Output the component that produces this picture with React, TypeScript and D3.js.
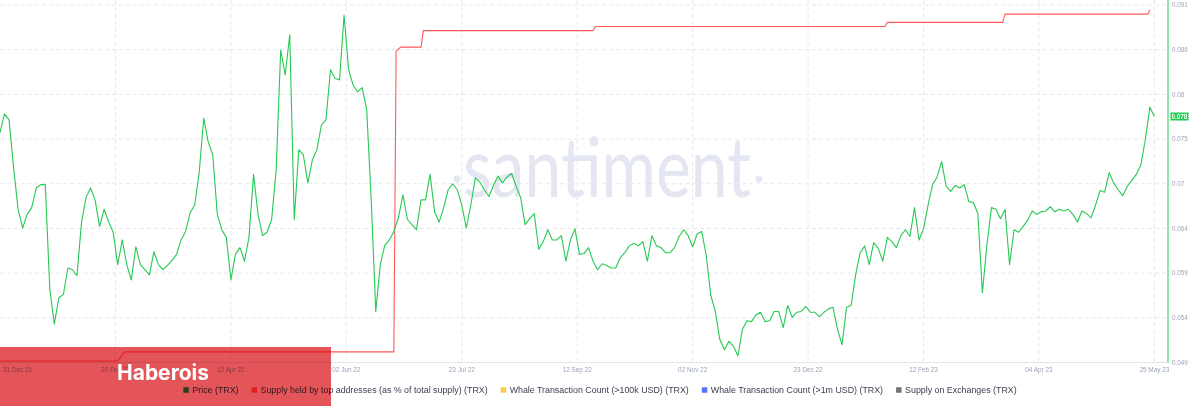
import React, { useEffect, useRef } from "react";
import * as d3 from "d3";

// ---------- DATA ----------
const domainStart = "2021-12-31";
const domainEnd = "2023-05-31";

// Price (TRX), one reading every 2 days starting at priceStart
const priceStart = "2021-12-31";
const priceStepDays = 2;
const priceValues = [
  0.0760, 0.0782, 0.0775, 0.0719, 0.0670, 0.0648, 0.0664, 0.0672, 0.0695, 0.0699,
  0.0699, 0.0576, 0.0535, 0.0566, 0.0570, 0.0601, 0.0599, 0.0592, 0.0654, 0.0684,
  0.0695, 0.0681, 0.0650, 0.0670, 0.0655, 0.0643, 0.0605, 0.0634, 0.0605, 0.0587,
  0.0626, 0.0605, 0.0599, 0.0593, 0.0620, 0.0605, 0.0599, 0.0604, 0.0610, 0.0617,
  0.0634, 0.0644, 0.0666, 0.0675, 0.0713, 0.0777, 0.0749, 0.0734, 0.0664, 0.0646,
  0.0637, 0.0587, 0.0617, 0.0625, 0.0609, 0.0637, 0.0711, 0.0664, 0.0639, 0.0643,
  0.0658, 0.0716, 0.0857, 0.0828, 0.0875, 0.0658, 0.0740, 0.0734, 0.0701, 0.0728,
  0.0740, 0.0769, 0.0775, 0.0834, 0.0824, 0.0822, 0.0898, 0.0834, 0.0816, 0.0808,
  0.0813, 0.0787, 0.0681, 0.0550, 0.0605, 0.0628, 0.0634, 0.0644, 0.0660, 0.0687,
  0.0658, 0.0652, 0.0646, 0.0681, 0.0681, 0.0711, 0.0667, 0.0655, 0.0672, 0.0693,
  0.0700, 0.0693, 0.0675, 0.0648, 0.0675, 0.0707, 0.0702, 0.0693, 0.0685, 0.0698,
  0.0709, 0.0701, 0.0708, 0.0712, 0.0697, 0.0684, 0.0652, 0.0659, 0.0665, 0.0623,
  0.0632, 0.0646, 0.0634, 0.0634, 0.0639, 0.0609, 0.0634, 0.0647, 0.0617, 0.0618,
  0.0625, 0.0609, 0.0599, 0.0606, 0.0604, 0.0601, 0.0601, 0.0613, 0.0619, 0.0627,
  0.0630, 0.0627, 0.0632, 0.0609, 0.0639, 0.0627, 0.0625, 0.0619, 0.0619, 0.0625,
  0.0638, 0.0646, 0.0639, 0.0626, 0.0641, 0.0644, 0.0616, 0.0569, 0.0550, 0.0517,
  0.0505, 0.0515, 0.0509, 0.0498, 0.0529, 0.0539, 0.0538, 0.0546, 0.0549, 0.0538,
  0.0539, 0.0550, 0.0550, 0.0531, 0.0557, 0.0543, 0.0549, 0.0550, 0.0556, 0.0549,
  0.0549, 0.0544, 0.0549, 0.0553, 0.0555, 0.0529, 0.0511, 0.0555, 0.0557, 0.0593,
  0.0619, 0.0627, 0.0605, 0.0631, 0.0624, 0.0609, 0.0637, 0.0632, 0.0625, 0.0639,
  0.0646, 0.0638, 0.0672, 0.0634, 0.0647, 0.0675, 0.0699, 0.0708, 0.0726, 0.0697,
  0.0691, 0.0698, 0.0695, 0.0699, 0.0679, 0.0678, 0.0665, 0.0572, 0.0628, 0.0672,
  0.0670, 0.0659, 0.0670, 0.0605, 0.0646, 0.0643, 0.0650, 0.0657, 0.0668, 0.0664,
  0.0667, 0.0668, 0.0673, 0.0667, 0.0670, 0.0668, 0.0670, 0.0664, 0.0655, 0.0668,
  0.0665, 0.0660, 0.0675, 0.0692, 0.0690, 0.0713, 0.0701, 0.0693, 0.0686, 0.0697,
  0.0704, 0.0711, 0.0722, 0.0752, 0.0790, 0.0779,
];

// Supply held by top addresses (% of total supply)
const supplyDates = [
  "2021-12-31", "2022-02-21", "2022-02-24", "2022-06-23", "2022-06-24", "2022-06-26",
  "2022-07-05", "2022-07-06", "2022-09-19", "2022-09-20", "2023-01-26", "2023-01-27",
  "2023-03-19", "2023-03-20", "2023-05-22", "2023-05-23",
];
const supplyValues = [
  78.5, 78.5, 78.72, 78.72, 86.0, 86.1,
  86.1, 86.5, 86.5, 86.6, 86.6, 86.7,
  86.7, 86.9, 86.9, 87.0,
];

const xTickDates = [
  "2021-12-31", "2022-02-20", "2022-04-12", "2022-06-02", "2022-07-23", "2022-09-12",
  "2022-11-02", "2022-12-23", "2023-02-12", "2023-04-04", "2023-05-25",
];
const yTickValues = [0.049, 0.05425, 0.0595, 0.06475, 0.07, 0.07525, 0.0805, 0.08575, 0.091];
const yTickLabels = ["0.049", "0.054", "0.059", "0.064", "0.07", "0.075", "0.08", "0.086", "0.091"];
const lastPriceLabel = "0.078";

const legendLabels = [
  "Price (TRX)",
  "Supply held by top addresses (as % of total supply) (TRX)",
  "Whale Transaction Count (>100k USD) (TRX)",
  "Whale Transaction Count (>1m USD) (TRX)",
  "Supply on Exchanges (TRX)",
];
const legendColors = ["#26C953", "#FF5B5B", "#FFCB47", "#5275FF", "#777270"];

const watermarkText = "santiment";
const overlayText = "Haberois";

// ---------- CHART ----------
const W = 1200;
const H = 406;
const PLOT_RIGHT = 1168;
const PLOT_TOP = 5;
const PLOT_BOTTOM = 362.5;
const GREEN = "#26C953";
const RED = "#FF5B5B";
const AXIS_TEXT = "#9aa3b8";
const GRID = "#e6e8ee";
const FONT = "'Liberation Sans', Arial, sans-serif";

export default function App() {
  const ref = useRef<SVGSVGElement>(null);

  useEffect(() => {
    const svg = d3.select(ref.current);
    svg.selectAll("*").remove();
    const parse = d3.utcParse("%Y-%m-%d");
    const fmt = d3.utcFormat("%d %b %y");

    const x = d3
      .scaleUtc()
      .domain([parse(domainStart) as Date, parse(domainEnd) as Date])
      .range([0, PLOT_RIGHT]);
    const y = d3
      .scaleLinear()
      .domain([yTickValues[0], yTickValues[yTickValues.length - 1]])
      .range([PLOT_BOTTOM, PLOT_TOP]);
    const ySupply = d3
      .scaleLinear()
      .domain(d3.extent(supplyValues) as [number, number])
      .range([361, 10]);

    const start = parse(priceStart) as Date;
    const priceData = priceValues.map((v, i) => ({
      date: d3.utcDay.offset(start, i * priceStepDays),
      value: v,
    }));
    const supplyData = supplyDates.map((d, i) => ({ date: parse(d) as Date, value: supplyValues[i] }));
    const ticks = xTickDates.map((d) => parse(d) as Date);

    svg.append("rect").attr("width", W).attr("height", H).attr("fill", "#fff");

    // horizontal grid
    svg
      .append("g")
      .selectAll("line")
      .data(yTickValues.slice(1))
      .join("line")
      .attr("x1", 0)
      .attr("x2", PLOT_RIGHT)
      .attr("y1", (d) => y(d))
      .attr("y2", (d) => y(d))
      .attr("stroke", GRID)
      .attr("stroke-width", 1)
      .attr("stroke-dasharray", "4 3");

    // vertical grid
    svg
      .append("g")
      .selectAll("line")
      .data(ticks.filter((d) => x(d) > 3))
      .join("line")
      .attr("x1", (d) => x(d))
      .attr("x2", (d) => x(d))
      .attr("y1", 0)
      .attr("y2", PLOT_BOTTOM)
      .attr("stroke", GRID)
      .attr("stroke-width", 1)
      .attr("stroke-dasharray", "4 3");

    // bottom axis line
    svg
      .append("line")
      .attr("x1", 0)
      .attr("x2", PLOT_RIGHT)
      .attr("y1", PLOT_BOTTOM)
      .attr("y2", PLOT_BOTTOM)
      .attr("stroke", "#e3e5eb");

    // watermark
    const wm = svg.append("g").attr("fill", "#e4e7f2");
    wm.append("text")
      .attr("x", 463)
      .attr("y", 197)
      .attr("font-family", "Lato, 'Open Sans', sans-serif")
      .attr("font-weight", 400)
      .attr("font-size", 84)
      .attr("textLength", 288)
      .attr("lengthAdjust", "spacingAndGlyphs")
      .text(watermarkText);
    wm.append("circle").attr("cx", 457).attr("cy", 179).attr("r", 3.4);
    wm.append("circle").attr("cx", 759).attr("cy", 179).attr("r", 3.4);

    // supply line
    svg
      .append("path")
      .datum(supplyData)
      .attr("fill", "none")
      .attr("stroke", RED)
      .attr("stroke-width", 1.1)
      .attr(
        "d",
        d3
          .line<{ date: Date; value: number }>()
          .x((d) => x(d.date))
          .y((d) => ySupply(d.value))
      );

    // price line
    svg
      .append("path")
      .datum(priceData)
      .attr("fill", "none")
      .attr("stroke", GREEN)
      .attr("stroke-width", 1.1)
      .attr("stroke-linejoin", "round")
      .attr(
        "d",
        d3
          .line<{ date: Date; value: number }>()
          .x((d) => x(d.date))
          .y((d) => y(d.value))
      );

    // right axis
    svg
      .append("line")
      .attr("x1", PLOT_RIGHT)
      .attr("x2", PLOT_RIGHT)
      .attr("y1", 0)
      .attr("y2", PLOT_BOTTOM)
      .attr("stroke", GREEN)
      .attr("stroke-width", 1);
    svg
      .append("g")
      .selectAll("text")
      .data(yTickValues)
      .join("text")
      .attr("x", PLOT_RIGHT + 4)
      .attr("y", (d) => y(d))
      .attr("dy", "0.35em")
      .attr("font-family", FONT)
      .attr("font-size", 6.3)
      .attr("fill", AXIS_TEXT)
      .text((d, i) => yTickLabels[i]);

    // last value badge
    const last = priceData[priceData.length - 1];
    const ly = y(last.value);
    svg
      .append("rect")
      .attr("x", PLOT_RIGHT + 2.5)
      .attr("y", ly - 4)
      .attr("width", 18)
      .attr("height", 8)
      .attr("fill", GREEN);
    svg
      .append("text")
      .attr("x", PLOT_RIGHT + 11.5)
      .attr("y", ly)
      .attr("dy", "0.35em")
      .attr("text-anchor", "middle")
      .attr("font-family", FONT)
      .attr("font-size", 6.3)
      .attr("font-weight", 700)
      .attr("fill", "#fff")
      .text(lastPriceLabel);

    // x labels
    svg
      .append("g")
      .selectAll("text")
      .data(ticks)
      .join("text")
      .attr("x", (d) => (x(d) < 15 ? 3 : x(d)))
      .attr("y", 370)
      .attr("dy", "0.35em")
      .attr("text-anchor", (d) => (x(d) < 15 ? "start" : "middle"))
      .attr("font-family", FONT)
      .attr("font-size", 6.4)
      .attr("fill", AXIS_TEXT)
      .text((d) => fmt(d));

    // legend
    const lg = svg.append("g").attr("font-family", FONT).attr("font-size", 8.85);
    const items = legendLabels.map((label, i) => {
      const g = lg.append("g");
      g.append("rect").attr("width", 5.5).attr("height", 5.5).attr("y", -2.75).attr("fill", legendColors[i]);
      const t = g
        .append("text")
        .attr("x", 9)
        .attr("dy", "0.35em")
        .attr("fill", "#3c4152")
        .text(label);
      const w = 9 + (t.node() as SVGTextElement).getComputedTextLength();
      return { g, w };
    });
    const gap = 13;
    const total = d3.sum(items, (d) => d.w) + gap * (items.length - 1);
    let cx = W / 2 - total / 2;
    items.forEach((it) => {
      it.g.attr("transform", `translate(${cx},390)`);
      cx += it.w + gap;
    });

    // overlay banner
    svg
      .append("rect")
      .attr("x", 0)
      .attr("y", 347)
      .attr("width", 331)
      .attr("height", H - 347)
      .attr("fill", "#e4555a")
      .style("mix-blend-mode", "multiply");
    svg
      .append("text")
      .attr("x", 117)
      .attr("y", 380)
      .attr("font-family", "Inter, 'Noto Sans', sans-serif")
      .attr("font-weight", 700)
      .attr("font-size", 21)
      .attr("fill", "#fff")
      .text(overlayText);
  }, []);

  return (
    <svg
      ref={ref}
      width={W}
      height={H}
      style={{ position: "absolute", left: 0, top: 0, display: "block" }}
    />
  );
}
